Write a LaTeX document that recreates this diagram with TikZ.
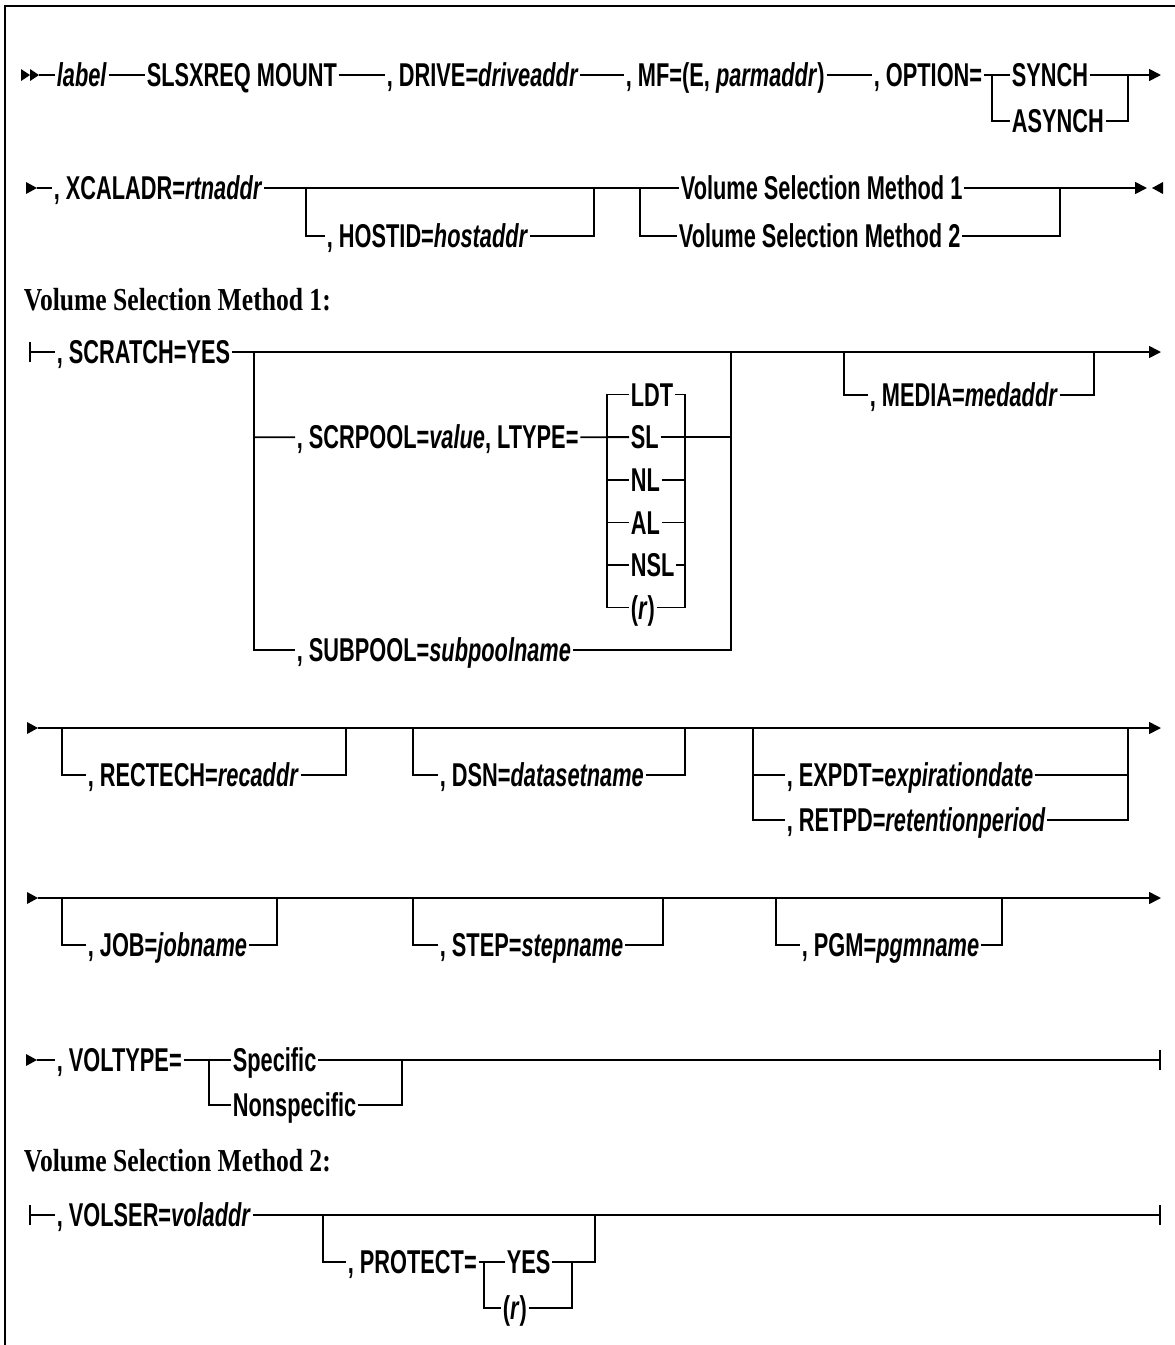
\documentclass[tikz,border=0pt]{standalone}
\usepackage{fontspec}
\setmainfont{Liberation Serif}
\newfontfamily\railfont{Liberation Sans}[FakeStretch=0.66]
\newfontfamily\headfont{Liberation Serif}[FakeStretch=0.80]
\usetikzlibrary{arrows.meta,positioning}
\begin{document}
\begin{tikzpicture}[x=1pt,y=-1pt,line width=1.7pt,
    tok/.style={font=\railfont\bfseries\fontsize{33}{33}\selectfont,inner xsep=1pt,inner ysep=0pt,
      text height=23.5pt,text depth=0pt,anchor=west},
    head/.style={font=\headfont\bfseries\fontsize{32}{32}\selectfont,inner sep=0pt,anchor=base west},
    go/.style={-{Triangle[length=12pt,width=12pt]}},
    bar/.style={{Bar[width=20pt]}-},
    stop/.style={-{Bar[width=20pt]}}]
  \useasboundingbox (0,0) rectangle (1175,1345);
  \draw[line width=2pt] (5,1345) -- (5,6) -- (1175,6);

  % main statement
  \foreach \t in {30,39}{
    \fill (\t,75) -- ++(-9,-6) -- ++(0,12) -- cycle;
  }
  \coordinate (r1s) at (39,75);
  \node[tok] (lab) at (55,75) {\textit{label}};
  \node[tok] (cmd) at (145,75) {SLSXREQ MOUNT};
  \node[tok] (drv) at (385,75) {, DRIVE=\textit{driveaddr}};
  \node[tok] (mf) at (624,75) {, MF=(E, \textit{parmaddr})};
  \node[tok] (opt) at (872,75) {, OPTION=};
  \coordinate (optL) at (992,75);
  \node[tok] (syn) at (1010,75) {SYNCH};
  \node[tok] (asyn) at (1010,121) {ASYNCH};
  \coordinate (optR) at (1128,75);
  \coordinate (r1e) at (1161,75);
  \draw (r1s) -- (lab.west) (lab.east) -- (cmd.west) (cmd.east) -- (drv.west)
    (drv.east) -- (mf.west) (mf.east) -- (opt.west) (opt.east) -- (syn.west) (syn.east) -- (optR);
  \draw[go] (optR) -- (r1e);
  \draw (optL) |- (asyn.west) (asyn.east) -| (optR);

  \coordinate (r2s) at (37,188);
  \node[tok] (xcal) at (52,188) {, XCALADR=\textit{rtnaddr}};
  \coordinate (hostL) at (306,188);
  \node[tok] (host) at (325,236) {, HOSTID=\textit{hostaddr}};
  \coordinate (hostR) at (594,188);
  \coordinate (vsmL) at (640,188);
  \node[tok] (vsm1) at (679,188) {Volume Selection Method 1};
  \node[tok] (vsm2) at (677,236) {Volume Selection Method 2};
  \coordinate (vsmR) at (1060,188);
  \coordinate (r2e) at (1147,188);
  \draw (r2s) -- (xcal.west) (xcal.east) -- (vsm1.west) (vsm1.east) -- (vsmR);
  \draw[go] (vsmR) -- (r2e);
  \draw (hostL) |- (host.west) (host.east) -| (hostR);
  \draw (vsmL) |- (vsm2.west) (vsm2.east) -| (vsmR);
  \fill (1152,188) -- ++(11,-6) -- ++(0,12) -- cycle;

  % method 1
  \node[head] (h1) at (23,310) {Volume Selection Method 1:};

  \coordinate (r3s) at (29,352);
  \node[tok] (scr) at (55,352) {, SCRATCH=YES};
  \coordinate (poolL) at (254,352);
  \node[tok] (scrp) at (295,437.2) {, SCRPOOL=\textit{value}, LTYPE=};
  \node[tok] (subp) at (295,650) {, SUBPOOL=\textit{subpoolname}};
  \coordinate (poolR) at (731,352);
  \coordinate (ltL) at (607,352);
  \coordinate (ltR) at (685,352);
  \foreach \t [count=\i] in {LDT,SL,NL,AL,NSL,{(\textit{r})}}{
    \node[tok] (lt\i) at (629,352+42.6*\i) {\t};
  }
  \coordinate (medL) at (844,352);
  \node[tok] (med) at (868,395) {, MEDIA=\textit{medaddr}};
  \coordinate (medR) at (1094,352);
  \coordinate (r3e) at (1161,352);
  \draw[bar] (r3s) -- (scr.west);
  \draw[go] (scr.east) -- (r3e);
  \draw (poolL) |- (subp.west) (subp.east) -| (poolR);
  \draw (poolL |- scrp.west) -- (scrp.west) (scrp.east) -- (lt2.west);
  \draw (lt1.west) -- (ltL |- lt1.west) -- (ltL |- lt6.west) -- (lt6.west);
  \draw (lt1.east) -- (ltR |- lt1.east) -- (ltR |- lt6.east) -- (lt6.east);
  \foreach \i in {2,...,5}{
    \draw (ltL |- lt\i.west) -- (lt\i.west) (lt\i.east) -- (ltR |- lt\i.east);
  }
  \draw (ltR |- lt2.east) -- (poolR |- lt2.east);
  \draw (medL) |- (med.west) (med.east) -| (medR);

  \coordinate (r4s) at (38,728);
  \coordinate (recL) at (62,728);
  \node[tok] (rec) at (86,775) {, RECTECH=\textit{recaddr}};
  \coordinate (recR) at (346,728);
  \coordinate (dsnL) at (413,728);
  \node[tok] (dsn) at (438,775) {, DSN=\textit{datasetname}};
  \coordinate (dsnR) at (685,728);
  \coordinate (expL) at (753,728);
  \node[tok] (exp) at (785,775) {, EXPDT=\textit{expirationdate}};
  \node[tok] (ret) at (785,820) {, RETPD=\textit{retentionperiod}};
  \coordinate (expR) at (1128,728);
  \coordinate (r4e) at (1161,728);
  \draw[go] (r4s) -- (r4e);
  \draw (recL) |- (rec.west) (rec.east) -| (recR);
  \draw (dsnL) |- (dsn.west) (dsn.east) -| (dsnR);
  \draw (expL) |- (ret.west) (ret.east) -| (expR);
  \draw (expL |- exp.west) -- (exp.west) (exp.east) -- (expR |- exp.east);

  \coordinate (r5s) at (38,898);
  \coordinate (jobL) at (62,898);
  \node[tok] (job) at (86,945) {, JOB=\textit{jobname}};
  \coordinate (jobR) at (277,898);
  \coordinate (stepL) at (413,898);
  \node[tok] (stp) at (438,945) {, STEP=\textit{stepname}};
  \coordinate (stepR) at (663,898);
  \coordinate (pgmL) at (776,898);
  \node[tok] (pgm) at (800,945) {, PGM=\textit{pgmname}};
  \coordinate (pgmR) at (1002,898);
  \coordinate (r5e) at (1161,898);
  \draw[go] (r5s) -- (r5e);
  \draw (jobL) |- (job.west) (job.east) -| (jobR);
  \draw (stepL) |- (stp.west) (stp.east) -| (stepR);
  \draw (pgmL) |- (pgm.west) (pgm.east) -| (pgmR);

  \coordinate (r6s) at (37,1060);
  \node[tok] (vt) at (55,1060) {, VOLTYPE=};
  \coordinate (vtL) at (209,1060);
  \node[tok] (spc) at (231,1060) {Specific};
  \node[tok] (nspc) at (231,1105) {Nonspecific};
  \coordinate (vtR) at (402,1060);
  \coordinate (r6e) at (1161,1060);
  \draw (r6s) -- (vt.west) (vt.east) -- (spc.west);
  \draw[stop] (spc.east) -- (r6e);
  \draw (vtL) |- (nspc.west) (nspc.east) -| (vtR);

  \foreach \c in {r2s,r4s,r5s,r6s}{
    \fill (\c) -- ++(-11,-6) -- ++(0,12) -- cycle;
  }

  % method 2
  \node[head] (h2) at (23,1171) {Volume Selection Method 2:};

  \coordinate (r7s) at (29,1215);
  \node[tok] (vser) at (55,1215) {, VOLSER=\textit{voladdr}};
  \coordinate (protL) at (323,1215);
  \node[tok] (prot) at (346,1262) {, PROTECT=};
  \coordinate (ynL) at (484,1262);
  \node[tok] (yes) at (505,1262) {YES};
  \node[tok] (rreg) at (501,1308) {(\textit{r})};
  \coordinate (ynR) at (572,1262);
  \coordinate (protR) at (595,1215);
  \coordinate (r7e) at (1161,1215);
  \draw[bar] (r7s) -- (vser.west);
  \draw[stop] (vser.east) -- (r7e);
  \draw (protL) |- (prot.west) (prot.east) -- (yes.west) (yes.east) -| (protR);
  \draw (ynL) |- (rreg.west) (rreg.east) -| (ynR);
\end{tikzpicture}
\end{document}
